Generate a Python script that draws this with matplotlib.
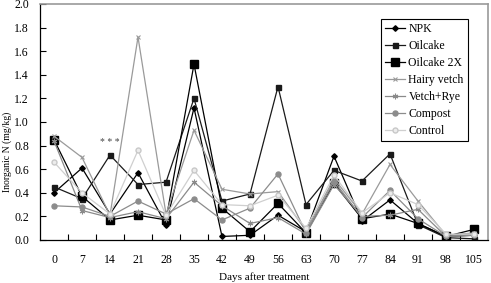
import matplotlib
matplotlib.use('Agg')
import matplotlib.pyplot as plt
import numpy as np

plt.rcParams['font.family'] = ['Liberation Serif', 'DejaVu Serif']

# Days after treatment
days = [0, 7, 14, 21, 28, 35, 42, 49, 56, 63, 70, 77, 84, 91, 98, 105]

# Inorganic N (mg/kg) per treatment
npk = [0.40, 0.61, 0.22, 0.57, 0.13, 1.12, 0.03, 0.04, 0.21, 0.07, 0.71, 0.16, 0.34, 0.14, 0.03, 0.04]
oilcake = [0.45, 0.35, 0.72, 0.47, 0.49, 1.20, 0.33, 0.39, 1.30, 0.30, 0.59, 0.50, 0.73, 0.13, 0.02, 0.01]
oilcake2x = [0.85, 0.37, 0.17, 0.21, 0.17, 1.49, 0.27, 0.07, 0.31, 0.06, 0.48, 0.18, 0.22, 0.14, 0.03, 0.09]
hairy_vetch = [0.88, 0.70, 0.21, 1.72, 0.22, 0.93, 0.43, 0.39, 0.41, 0.08, 0.52, 0.22, 0.64, 0.33, 0.04, 0.06]
vetch_rye = [0.84, 0.25, 0.19, 0.24, 0.18, 0.49, 0.29, 0.14, 0.19, 0.05, 0.47, 0.20, 0.21, 0.26, 0.03, 0.05]
compost = [0.29, 0.28, 0.20, 0.33, 0.22, 0.35, 0.17, 0.27, 0.56, 0.06, 0.50, 0.19, 0.42, 0.18, 0.03, 0.04]
control = [0.66, 0.40, 0.22, 0.76, 0.21, 0.59, 0.30, 0.29, 0.38, 0.10, 0.55, 0.23, 0.40, 0.30, 0.05, 0.05]

fig = plt.figure(figsize=(4.91, 2.83), dpi=100)
ax = fig.add_axes([40/491, 43/283, 448/491, 236/283])

lw = 0.9
ax.plot(days, npk, color='black', lw=lw, marker='D', ms=2.8, label='NPK')
ax.plot(days, oilcake, color='#1a1a1a', lw=lw, marker='s', ms=3.6, label='Oilcake')
ax.plot(days, oilcake2x, color='black', lw=lw, marker='s', ms=6, label='Oilcake 2X')
ax.plot(days, hairy_vetch, color='#9a9a9a', lw=lw, marker='x', ms=3.5, mew=0.8, label='Hairy vetch')
ax.plot(days, vetch_rye, color='#8a8a8a', lw=lw, marker=(6, 2, 0), ms=4, mew=0.8, label='Vetch+Rye')
ax.plot(days, compost, color='#8c8c8c', lw=lw, marker='o', ms=3.6, label='Compost')
ax.plot(days, control, color='#cfcfcf', lw=lw, marker='o', ms=3.6, mfc='#ececec', mec='#c8c8c8', label='Control')

ax.text(14, 0.83, '* * *', ha='center', va='center', fontsize=7, color='#444444')

ax.set_xlim(-3.5, 108.5)
ax.set_ylim(0, 2.0)
ax.set_xticks(days)
ax.set_xticks(np.array(days[:-1]) + 3.5, minor=True)
ax.tick_params(axis='x', which='major', length=0, pad=10, labelsize=8.5)
ax.tick_params(axis='x', which='minor', direction='in', length=4, width=0.8)
ax.set_yticks(np.arange(0, 2.01, 0.2))
ax.set_yticklabels(['%.1f' % v for v in np.arange(0, 2.01, 0.2)])
ax.tick_params(axis='y', direction='in', length=4, width=0.8, labelsize=8.5, pad=8)

fig.text(264/491, 1/283, 'Days after treatment', fontsize=8, ha='center', va='bottom')
fig.text(7/491, 1 - 152/283, 'Inorganic N (mg/kg)', fontsize=7, rotation=90,
         ha='center', va='center')

for s in ['left', 'bottom']:
    ax.spines[s].set_color('black')
    ax.spines[s].set_linewidth(0.9)
for s in ['top', 'right']:
    ax.spines[s].set_color('#9a9a9a')
    ax.spines[s].set_linewidth(1.2)

leg = ax.legend(loc='upper right', bbox_to_anchor=(0.955, 0.937), fontsize=8.5,
                frameon=True, fancybox=False, edgecolor='black', framealpha=1,
                labelspacing=0.42, handlelength=1.7, handletextpad=0.3,
                borderpad=0.35, borderaxespad=0)
leg.get_frame().set_linewidth(0.8)

fig.savefig('out.png', dpi=100)
